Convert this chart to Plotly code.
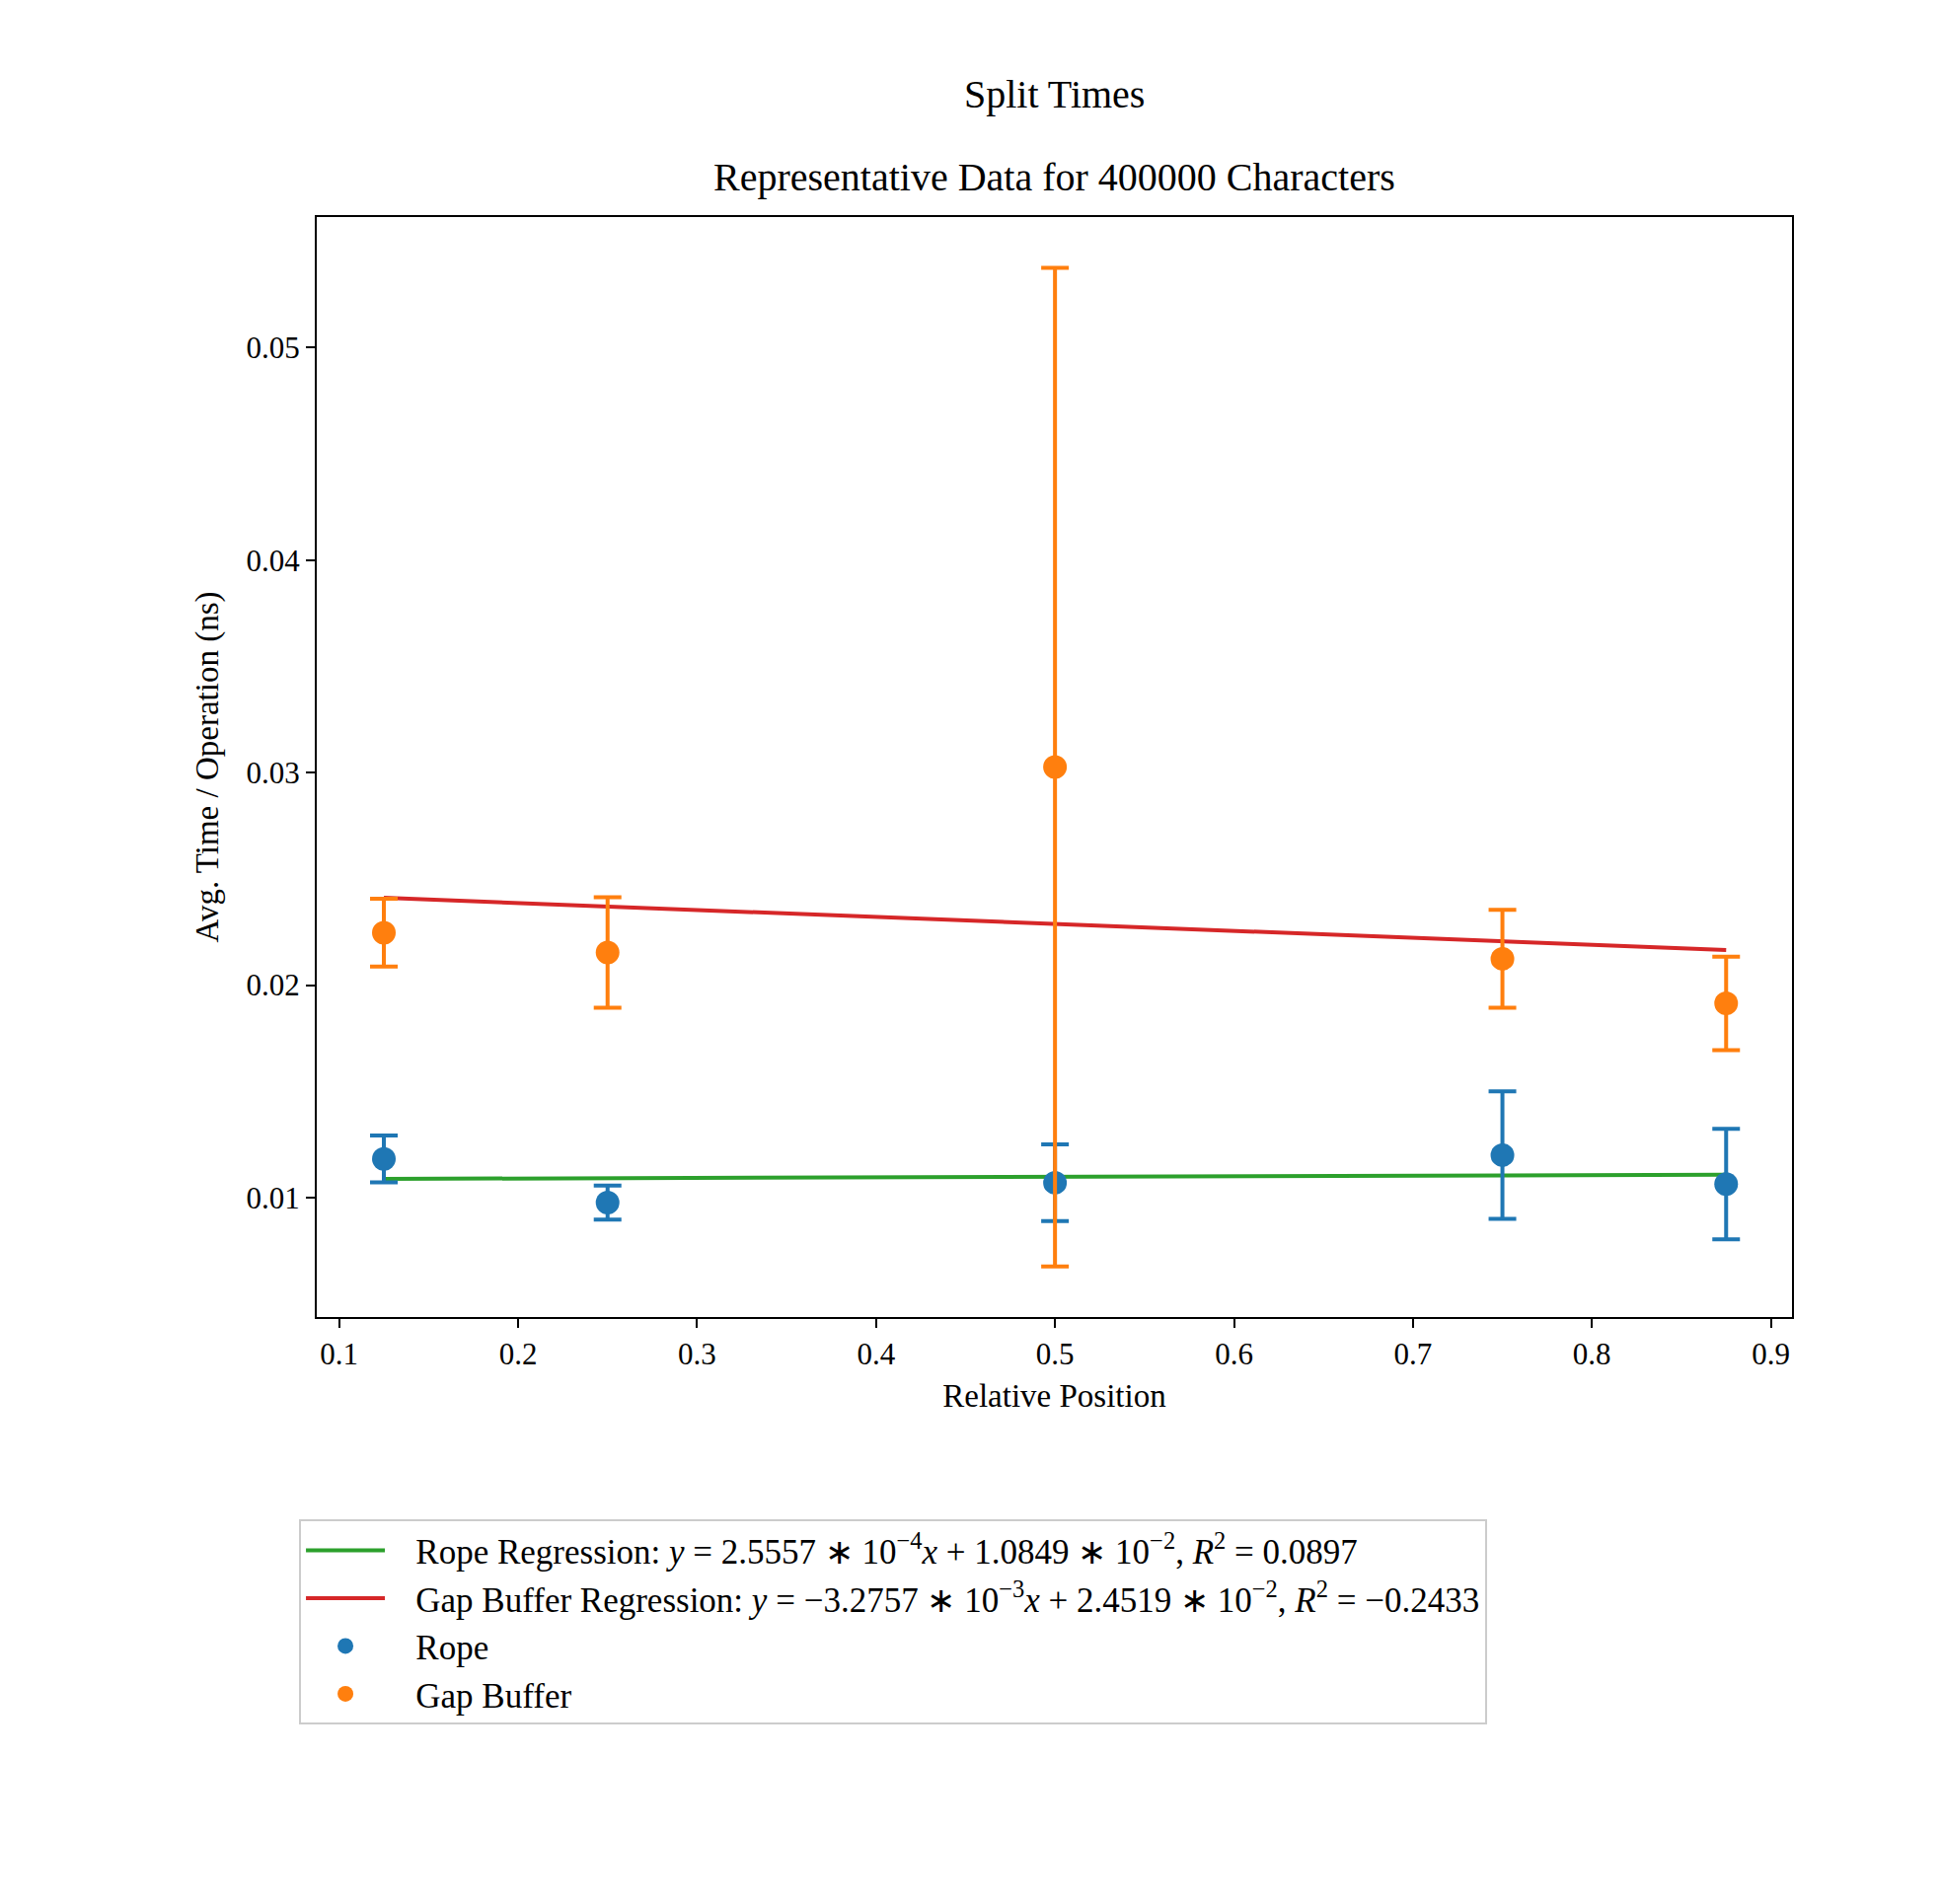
import plotly.graph_objects as go

# data
positions = [0.125, 0.25, 0.5, 0.75, 0.875]
rope_time = [0.01182, 0.00977, 0.0107, 0.0120, 0.01064]
rope_err = [0.0011, 0.0008, 0.0018, 0.0030, 0.0026]
gap_time = [0.02247, 0.02154, 0.03026, 0.02124, 0.01914]
gap_err = [0.0016, 0.0026, 0.0235, 0.0023, 0.0022]

# regression coefficients from the legend
rope_fit = (2.5557e-4, 1.0849e-2)
gap_fit = (-3.2757e-3, 2.4519e-2)

fit_x = [positions[0], positions[-1]]
font = "Liberation Serif"

fig = go.Figure()
fig.add_trace(go.Scatter(x=fit_x, y=[rope_fit[0] * x + rope_fit[1] for x in fit_x], mode="lines",
                         line=dict(color="#2ca02c", width=4),
                         name="   Rope Regression: <i>y</i> = 2.5557 ∗ 10<sup>−4</sup><i>x</i> + 1.0849 ∗ 10<sup>−2</sup>, <i>R</i><sup>2</sup> = 0.0897"))
fig.add_trace(go.Scatter(x=fit_x, y=[gap_fit[0] * x + gap_fit[1] for x in fit_x], mode="lines",
                         line=dict(color="#d62728", width=4),
                         name="   Gap Buffer Regression: <i>y</i> = −3.2757 ∗ 10<sup>−3</sup><i>x</i> + 2.4519 ∗ 10<sup>−2</sup>, <i>R</i><sup>2</sup> = −0.2433"))
fig.add_trace(go.Scatter(x=positions, y=rope_time, mode="markers", name="   Rope",
                         marker=dict(color="#1f77b4", size=24),
                         error_y=dict(type="data", array=rope_err, color="#1f77b4", thickness=4, width=14)))
fig.add_trace(go.Scatter(x=positions, y=gap_time, mode="markers", name="   Gap Buffer",
                         marker=dict(color="#ff7f0e", size=24),
                         error_y=dict(type="data", array=gap_err, color="#ff7f0e", thickness=4, width=14)))

axis_style = dict(showgrid=False, zeroline=False, showline=True, linecolor="black", linewidth=2,
                  mirror=True, ticks="outside", ticklen=9, tickwidth=2, tickcolor="black",
                  tickfont=dict(size=31, family=font, color="black"))

fig.update_layout(
    width=1967, height=1930,
    margin=dict(l=313, r=159, t=212, b=603),
    plot_bgcolor="white", paper_bgcolor="white",
    font=dict(family=font, color="black"),
    xaxis=dict(range=[0.0875, 0.9118], tickvals=[0.1, 0.2, 0.3, 0.4, 0.5, 0.6, 0.7, 0.8, 0.9],
               ticktext=["0.1", "0.2", "0.3", "0.4", "0.5", "0.6", "0.7", "0.8", "0.9"],
               title=dict(text="Relative Position", font=dict(size=33, family=font), standoff=14), **axis_style),
    yaxis=dict(range=[0.00438, 0.05615], tickvals=[0.01, 0.02, 0.03, 0.04, 0.05],
               ticktext=["0.01", "0.02", "0.03", "0.04", "0.05"],
               title=dict(text="Avg. Time / Operation (ns)", font=dict(size=33, family=font), standoff=18), **axis_style),
    legend=dict(x=-0.012, y=-0.184, xanchor="left", yanchor="top", bordercolor="#cccccc", borderwidth=2,
                font=dict(size=35, family=font), tracegroupgap=0, itemwidth=80),
    showlegend=True,
    annotations=[
        dict(text="Split Times", x=0.5, xref="paper", yref="paper", y=1.0, yanchor="bottom", yshift=100,
             showarrow=False, font=dict(size=40, family=font)),
        dict(text="Representative Data for 400000 Characters", x=0.5, xref="paper", yref="paper",
             y=1.0, yanchor="bottom", yshift=16, showarrow=False, font=dict(size=40, family=font)),
    ],
)

fig.write_html("out.html")
